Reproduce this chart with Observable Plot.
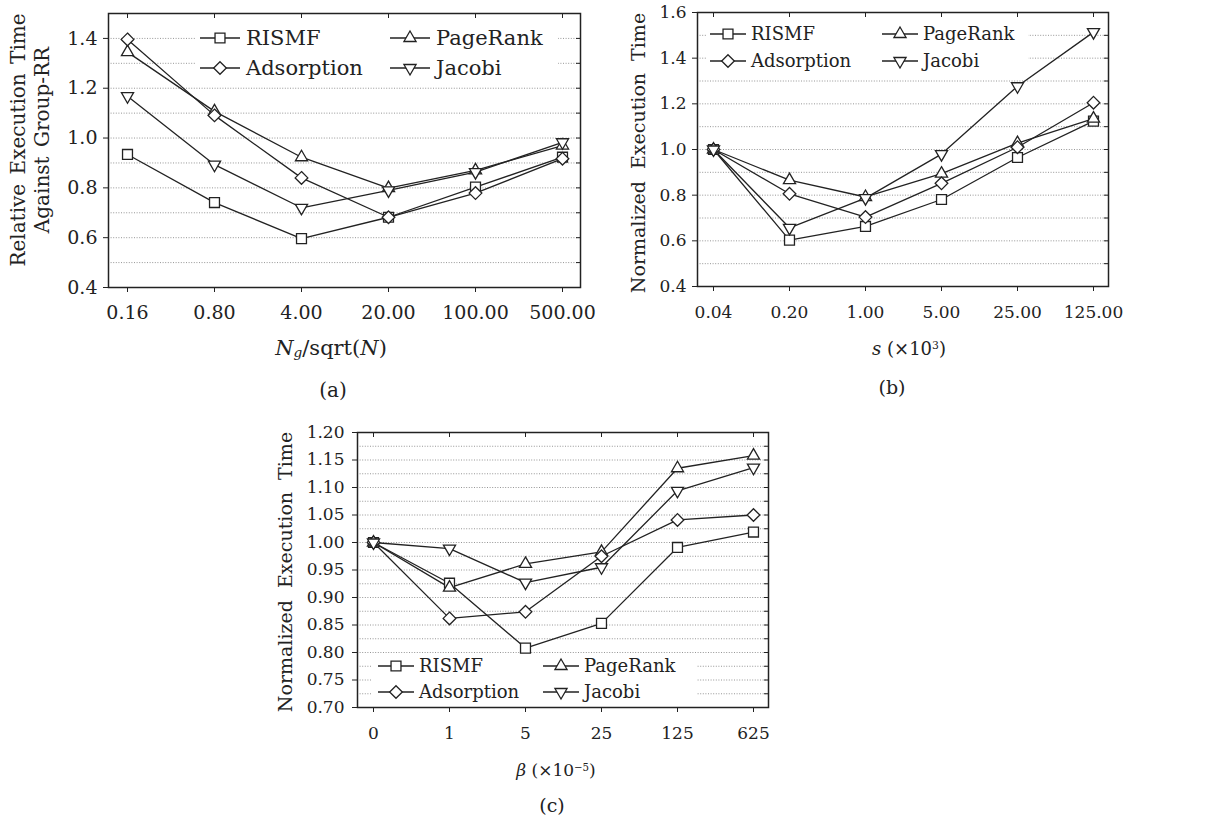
<!DOCTYPE html>
<html><head><meta charset="utf-8">
<script src="https://cdn.jsdelivr.net/npm/d3@7"></script>
<script src="https://cdn.jsdelivr.net/npm/@observablehq/plot@0.6"></script>
<style>
body{margin:0;background:#fff;}
#root{position:relative;width:1207px;height:821px;overflow:hidden;font-family:"DejaVu Serif",serif;color:#222;background:#fff;}
.lbl{position:absolute;font-size:20px;white-space:nowrap;transform:translate(-50%,-50%);}
.ylbl{position:absolute;font-size:20px;white-space:nowrap;text-align:center;line-height:24px;transform:translate(-50%,-50%) rotate(-90deg);word-spacing:3px;}
sub{font-size:0.65em;vertical-align:-0.2em;}
sup{font-size:0.6em;vertical-align:0.5em;}
</style></head><body><div id="root"></div>
<script>
const seriesNames = ["RISMF","PageRank","Adsorption","Jacobi"];

// Panel (a)
const xA = ["0.16","0.80","4.00","20.00","100.00","500.00"];
const aRISMF      = [0.934,0.741,0.596,0.682,0.803,0.923];
const aPageRank   = [1.345,1.107,0.923,0.799,0.870,0.970];
const aAdsorption = [1.396,1.091,0.840,0.682,0.779,0.917];
const aJacobi     = [1.168,0.893,0.720,0.790,0.863,0.983];
const yTicksA = [0.4,0.6,0.8,1.0,1.2,1.4];
const yMinorA = [0.5,0.6,0.7,0.8,0.9,1.0,1.1,1.2,1.3,1.4];

// Panel (b)
const xB = ["0.04","0.20","1.00","5.00","25.00","125.00"];
const bRISMF      = [1.0,0.603,0.663,0.781,0.965,1.124];
const bPageRank   = [1.0,0.866,0.792,0.894,1.028,1.135];
const bAdsorption = [1.0,0.806,0.704,0.852,1.010,1.205];
const bJacobi     = [1.0,0.657,0.787,0.980,1.277,1.514];
const yTicksB = [0.4,0.6,0.8,1.0,1.2,1.4,1.6];
const yMinorB = [0.5,0.6,0.7,0.8,0.9,1.0,1.1,1.2,1.3,1.4,1.5];

// Panel (c)
const xC = ["0","1","5","25","125","625"];
const cRISMF      = [1.0,0.926,0.808,0.853,0.991,1.019];
const cPageRank   = [1.0,0.918,0.961,0.983,1.135,1.158];
const cAdsorption = [1.0,0.862,0.874,0.975,1.041,1.050];
const cJacobi     = [1.0,0.989,0.927,0.955,1.094,1.136];
const yTicksC = [0.70,0.75,0.80,0.85,0.90,0.95,1.00,1.05,1.10,1.15,1.20];
const yMinorC = [0.725,0.75,0.775,0.80,0.825,0.85,0.875,0.90,0.925,0.95,0.975,1.00,1.025,1.05,1.075,1.10,1.125,1.15,1.175];

const INK = "#222";
const markerStyle = {
  RISMF:      {symbol:"square",    r:5.6, rotate:0},
  PageRank:   {symbol:"triangle2", r:5.8, rotate:0},
  Adsorption: {symbol:"diamond2",  r:5.7, rotate:0},
  Jacobi:     {symbol:"triangle2", r:5.8, rotate:180}
};
const d3Sym = {square:d3.symbolSquare, triangle2:d3.symbolTriangle2, diamond2:d3.symbolDiamond2};

const root = document.getElementById("root");

function makePanel(cfg){
  const {xs, series, yDomain, yTicks, yMinor, yFmt, left, top, w, h, ml, mr, mt, mb, xPad, yPad, fs} = cfg;
  const innerW = w-ml-mr, innerH = h-mt-mb;
  const marks = [
    Plot.gridY(yMinor, {stroke:"#8a8a8a", strokeOpacity:1, strokeWidth:0.9, strokeDasharray:"1,1.6"}),
    Plot.tickY(yMinor, {y:d=>d, insetLeft: innerW-4, stroke:INK, strokeWidth:1}),
    Plot.tickX(xs, {x:d=>d, insetBottom: innerH-5, stroke:INK, strokeWidth:1}),
    Plot.axisY(yTicks, {tickSize:5, tickPadding:yPad, tickFormat:yFmt, label:null, fontSize:fs, stroke:INK}),
    Plot.axisX(xs, {tickSize:5, tickPadding:xPad, label:null, fontSize:fs, stroke:INK})
  ];
  series.forEach(([name, vals]) => {
    marks.push(Plot.line(vals, {x:(d,i)=>xs[i], y:d=>d, stroke:INK, strokeWidth:1.3}));
  });
  series.forEach(([name, vals]) => {
    const m = markerStyle[name];
    marks.push(Plot.dot(vals, {x:(d,i)=>xs[i], y:d=>d, symbol:m.symbol, r:m.r, rotate:m.rotate, fill:"white", stroke:INK, strokeWidth:1.3}));
  });
  marks.push(Plot.frame({stroke:INK, strokeWidth:1.5}));
  const svg = Plot.plot({
    width:w, height:h, marginLeft:ml, marginRight:mr, marginTop:mt, marginBottom:mb,
    x:{type:"point", domain:xs, padding:0.2},
    y:{domain:yDomain},
    style:{fontFamily:"DejaVu Serif", fontSize:fs+"px", color:INK, background:"transparent", overflow:"visible"},
    marks
  });
  svg.style.position = "absolute";
  svg.style.left = left+"px";
  svg.style.top = top+"px";
  root.appendChild(svg);
}

function legend(cfg){
  const {left, top, w, h, cols, rows, lineLen, textOff, fs} = cfg;
  const ns = "http://www.w3.org/2000/svg";
  const svg = document.createElementNS(ns, "svg");
  svg.setAttribute("width", w); svg.setAttribute("height", h);
  svg.style.position = "absolute"; svg.style.left = left+"px"; svg.style.top = top+"px";
  const bg = document.createElementNS(ns, "rect");
  bg.setAttribute("width", w); bg.setAttribute("height", h); bg.setAttribute("fill", "white");
  svg.appendChild(bg);
  seriesNames.forEach((name, k) => {
    const cx = cols[k % 2], cy = rows[Math.floor(k / 2)];
    const ln = document.createElementNS(ns, "line");
    ln.setAttribute("x1", cx); ln.setAttribute("x2", cx+lineLen);
    ln.setAttribute("y1", cy); ln.setAttribute("y2", cy);
    ln.setAttribute("stroke", INK); ln.setAttribute("stroke-width", 1.3);
    svg.appendChild(ln);
    const m = markerStyle[name];
    const p = document.createElementNS(ns, "path");
    p.setAttribute("d", d3.symbol(d3Sym[m.symbol], Math.PI*m.r*m.r)());
    p.setAttribute("transform", `translate(${cx+lineLen/2},${cy}) rotate(${m.rotate})`);
    p.setAttribute("fill", "white"); p.setAttribute("stroke", INK); p.setAttribute("stroke-width", 1.3);
    svg.appendChild(p);
    const t = document.createElementNS(ns, "text");
    t.setAttribute("x", cx+textOff); t.setAttribute("y", cy);
    t.setAttribute("dy", "0.35em");
    t.setAttribute("font-family", "DejaVu Serif"); t.setAttribute("font-size", fs);
    t.setAttribute("fill", INK);
    t.textContent = name;
    svg.appendChild(t);
  });
  root.appendChild(svg);
}

function html(s){ root.insertAdjacentHTML("beforeend", s); }

makePanel({xs:xA, series:[["RISMF",aRISMF],["PageRank",aPageRank],["Adsorption",aAdsorption],["Jacobi",aJacobi]],
  yDomain:[0.4,1.5], yTicks:yTicksA, yMinor:yMinorA, yFmt:d3.format(".1f"),
  left:0, top:0, w:600, h:330, ml:108, mr:20, mt:13, mb:43, xPad:13, yPad:6, fs:19});
legend({left:196, top:25, w:362, h:58, cols:[4,194], rows:[13,43], lineLen:40, textOff:46, fs:21});

makePanel({xs:xB, series:[["RISMF",bRISMF],["PageRank",bPageRank],["Adsorption",bAdsorption],["Jacobi",bJacobi]],
  yDomain:[0.4,1.6], yTicks:yTicksB, yMinor:yMinorB, yFmt:d3.format(".1f"),
  left:600, top:0, w:607, h:330, ml:97, mr:99, mt:12, mb:44, xPad:14, yPad:6, fs:17});
legend({left:706, top:21, w:322, h:54, cols:[4,176], rows:[13,40], lineLen:36, textOff:41, fs:18});

makePanel({xs:xC, series:[["RISMF",cRISMF],["PageRank",cPageRank],["Adsorption",cAdsorption],["Jacobi",cJacobi]],
  yDomain:[0.70,1.20], yTicks:yTicksC, yMinor:yMinorC, yFmt:d3.format(".2f"),
  left:260, top:420, w:600, h:330, ml:97, mr:92, mt:12, mb:43, xPad:14, yPad:8, fs:17});
legend({left:372, top:655, w:324, h:50, cols:[6,171], rows:[11,37], lineLen:36, textOff:41, fs:18});

html(`<div class="ylbl" style="left:30px;top:140px;">Relative Execution Time<br>Against Group-RR</div>`);
html(`<div class="ylbl" style="left:638px;top:153px;font-size:19px;word-spacing:6px;">Normalized Execution Time</div>`);
html(`<div class="ylbl" style="left:285px;top:572px;font-size:19px;word-spacing:6px;">Normalized Execution Time</div>`);
html(`<div class="lbl" style="left:331px;top:348px;font-size:21px;"><i>N<sub>g</sub></i>/sqrt(<i>N</i>)</div>`);
html(`<div class="lbl" style="left:909px;top:348px;font-size:18px;"><i>s</i> (×10<sup>3</sup>)</div>`);
html(`<div class="lbl" style="left:556px;top:770px;font-size:17px;"><i>β</i> (×10<sup>−5</sup>)</div>`);
html(`<div class="lbl" style="left:333px;top:390px;">(a)</div>`);
html(`<div class="lbl" style="left:892px;top:387px;font-size:19px;">(b)</div>`);
html(`<div class="lbl" style="left:552px;top:805px;font-size:19px;">(c)</div>`);
</script></body></html>
